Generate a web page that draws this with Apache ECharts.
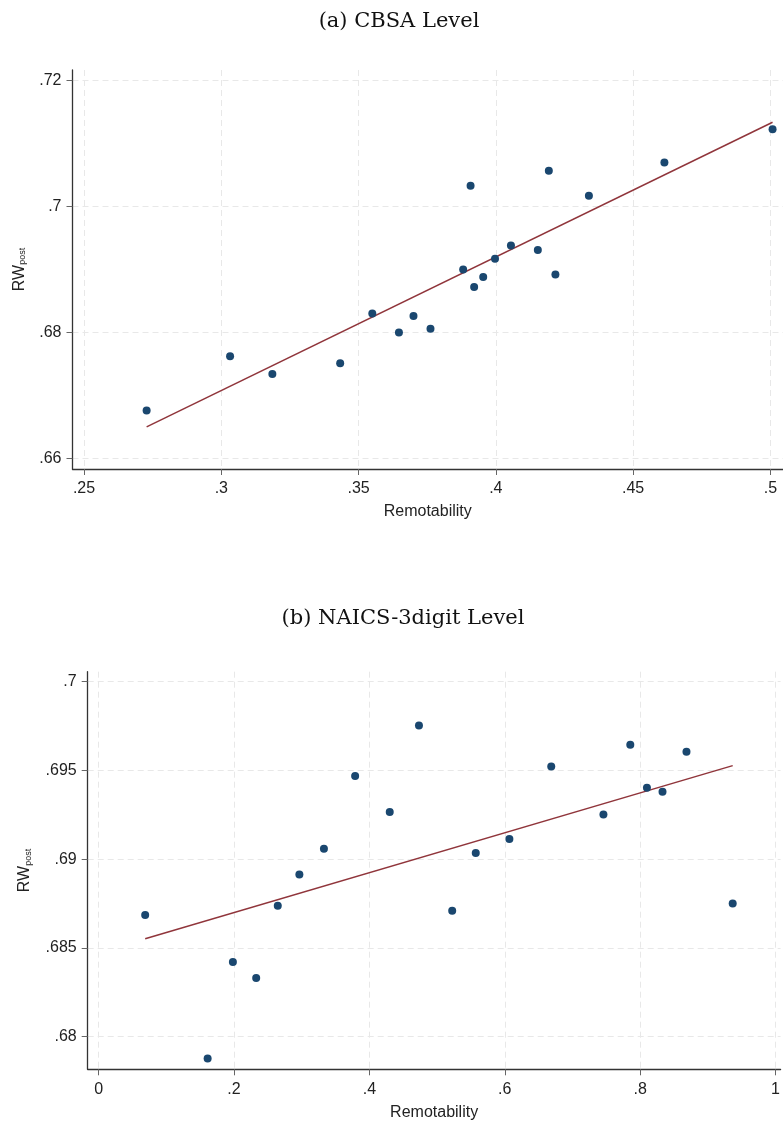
<!DOCTYPE html>
<html>
<head>
<meta charset="utf-8">
<script src="https://cdn.jsdelivr.net/npm/echarts@6/dist/echarts.min.js"></script>
<style>
  html, body { margin: 0; padding: 0; background: #fff; }
  #main { width: 783px; height: 1123px; }
</style>
</head>
<body>
<div id="main"></div>
<script>
// (a) CBSA level: remotability vs RW_post
var cbsaX = [.2728, .3032, .3186, .3433, .3550, .3647, .3700, .3762, .3881, .3908,
             .3921, .3954, .3997, .4055, .4153, .4193, .4217, .4339, .4614, .5008];
var cbsaY = [.6676, .6762, .6734, .6751, .6830, .6800, .6826, .6806, .6900, .7033,
             .6872, .6888, .6917, .6938, .6931, .7057, .6892, .7017, .7070, .7123];
var cbsaFitX = [.2728, .5008];
var cbsaFitY = [.6650, .7134];
var cbsaXTicks = [.25, .3, .35, .4, .45, .5];
var cbsaYTicks = [.66, .68, .7, .72];

// (b) NAICS 3-digit level
var naicsX = [.0687, .1610, .1983, .2327, .2646, .2965, .3328, .3789, .4300, .4732,
              .5223, .5571, .6068, .6686, .7457, .7854, .8100, .8330, .8684, .9367];
var naicsY = [.68686, .67877, .68421, .68331, .68737, .68913, .69058, .69469, .69266, .69753,
              .68709, .69035, .69114, .69522, .69251, .69644, .69402, .69379, .69605, .68750];
var naicsFitX = [.0687, .9367];
var naicsFitY = [.68551, .69527];
var naicsXTicks = [0, .2, .4, .6, .8, 1];
var naicsYTicks = [.68, .685, .69, .695, .7];

function fmt(v) {
  // Stata style: drop leading zero
  var s = String(+v.toFixed(4));
  return s.replace(/^0\./, '.');
}

function zip(xs, ys) {
  return xs.map(function (x, i) { return [x, ys[i]]; });
}

var gridLine = { show: true, lineStyle: { color: '#e8e8e8', type: [6, 4], width: 1 } };
var labelStyle = { color: '#222', fontSize: 16, fontFamily: 'Liberation Sans, Arial, sans-serif' };
var nameRich = {
  a: { fontSize: 16, color: '#222', fontFamily: 'Liberation Sans, Arial, sans-serif' },
  b: { fontSize: 9, color: '#222', fontFamily: 'Liberation Sans, Arial, sans-serif', verticalAlign: 'bottom' }
};

function xAxis(idx, min, max, ticks) {
  return {
    type: 'value', gridIndex: idx, min: min, max: max,
    name: 'Remotability', nameLocation: 'middle', nameGap: 35,
    nameTextStyle: labelStyle,
    axisLine: { show: true, onZero: false, lineStyle: { color: '#333', width: 1.3 } },
    axisTick: { show: true, length: 6, customValues: ticks, lineStyle: { color: '#666' } },
    axisLabel: Object.assign({ customValues: ticks, margin: 12, formatter: fmt }, labelStyle),
    splitLine: gridLine
  };
}

function yAxis(idx, min, max, ticks, gap) {
  return {
    type: 'value', gridIndex: idx, min: min, max: max,
    name: '{a|RW}{b|post}', nameLocation: 'middle', nameGap: gap, nameRotate: 90,
    nameTextStyle: { rich: nameRich },
    axisLine: { show: true, onZero: false, lineStyle: { color: '#333', width: 1.3 } },
    axisTick: { show: true, length: 6, customValues: ticks, lineStyle: { color: '#666' } },
    axisLabel: Object.assign({ customValues: ticks, margin: 11, formatter: fmt }, labelStyle),
    splitLine: gridLine
  };
}

var dotStyle = { color: '#1a476f', opacity: 1 };
var fitStyle = { color: '#90353b', width: 1.5 };
var titleFont = { fontFamily: 'DejaVu Serif', fontWeight: 'normal', fontSize: 21, color: '#111' };

var chart = echarts.init(document.getElementById('main'));
chart.setOption({
  animation: false,
  backgroundColor: '#fff',
  title: [
    { text: '(a) CBSA Level', left: 394, top: 6, textAlign: 'center', textStyle: titleFont },
    { text: '(b) NAICS-3digit Level', left: 398, top: 603, textAlign: 'center', textStyle: titleFont }
  ],
  grid: [
    { left: 72.5, top: 70, width: 710.5, height: 399 },
    { left: 87.7, top: 671.7, width: 695.3, height: 397.6 }
  ],
  xAxis: [
    xAxis(0, 0.2458, 0.5046, cbsaXTicks),
    xAxis(1, -0.0162, 1.0074, naicsXTicks)
  ],
  yAxis: [
    yAxis(0, 0.6583, 0.7217, cbsaYTicks, 45),
    yAxis(1, 0.67816, 0.70056, naicsYTicks, 55)
  ],
  series: [
    { type: 'scatter', xAxisIndex: 0, yAxisIndex: 0, data: zip(cbsaX, cbsaY),
      symbolSize: 8, itemStyle: dotStyle, z: 3 },
    { type: 'line', xAxisIndex: 0, yAxisIndex: 0, data: zip(cbsaFitX, cbsaFitY),
      showSymbol: false, lineStyle: fitStyle, z: 2 },
    { type: 'scatter', xAxisIndex: 1, yAxisIndex: 1, data: zip(naicsX, naicsY),
      symbolSize: 8, itemStyle: dotStyle, z: 3 },
    { type: 'line', xAxisIndex: 1, yAxisIndex: 1, data: zip(naicsFitX, naicsFitY),
      showSymbol: false, lineStyle: fitStyle, z: 2 }
  ]
});
</script>
</body>
</html>
